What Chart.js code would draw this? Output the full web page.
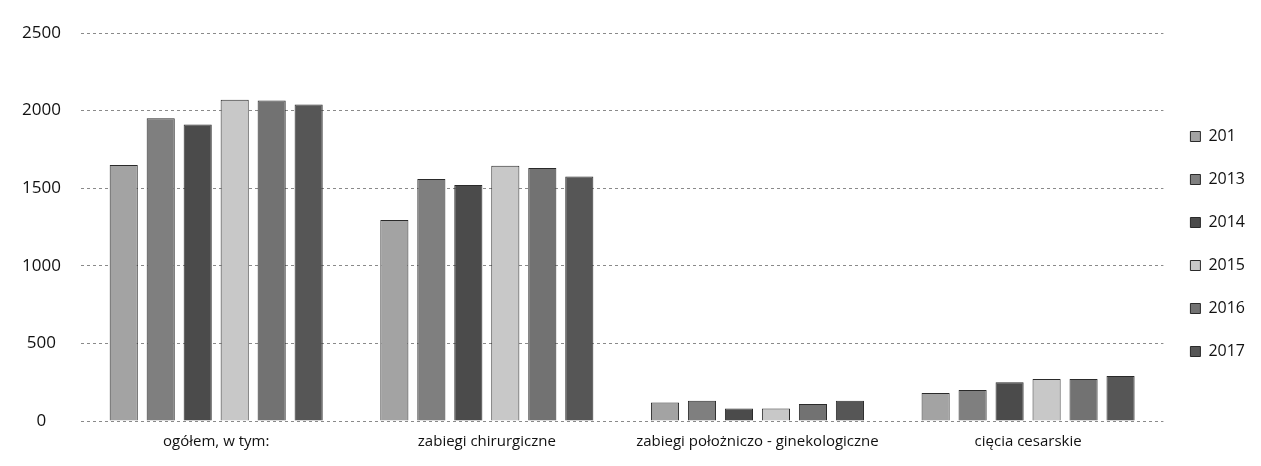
<!DOCTYPE html>
<html>
<head>
<meta charset="utf-8">
<script src="https://cdn.jsdelivr.net/npm/chart.js@4"></script>
<style>
  body { margin: 0; background: #fff; }
  #wrap { width: 1261px; height: 466px; }
</style>
</head>
<body>
<div id="wrap"><canvas id="chart" width="1261" height="466"></canvas></div>
<script>
const categories = ['ogółem, w tym:', 'zabiegi chirurgiczne', 'zabiegi położniczo - ginekologiczne', 'cięcia cesarskie'];
const years = ['201', '2013', '2014', '2015', '2016', '2017'];
const values2012 = [1650, 1295, 120, 180];
const values2013 = [1950, 1560, 130, 200];
const values2014 = [1910, 1520, 80, 250];
const values2015 = [2070, 1645, 80, 270];
const values2016 = [2065, 1630, 110, 270];
const values2017 = [2040, 1575, 130, 290];
const yTicks = [0, 500, 1000, 1500, 2000, 2500];

const seriesValues = [values2012, values2013, values2014, values2015, values2016, values2017];
const fills = ['#a3a3a3', '#7f7f7f', '#4b4b4b', '#c8c8c8', '#727272', '#565656'];

const ctx = document.getElementById('chart').getContext('2d');
new Chart(ctx, {
    type: 'bar',
    data: {
        labels: categories,
        datasets: years.map((y, i) => ({
            label: y,
            data: seriesValues[i],
            backgroundColor: fills[i],
            borderColor: '#2a2a2a',
            borderWidth: 1
        }))
    },
    options: {
        responsive: false,
        animation: false,
        layout: { padding: { top: 33, left: 2, right: 6, bottom: 11 } },
        datasets: { bar: { barPercentage: 0.76, categoryPercentage: 0.82 } },
        plugins: {
            legend: {
                position: 'right',
                labels: {
                    boxWidth: 10,
                    boxHeight: 10,
                    padding: 27,
                    color: '#111',
                    font: { family: 'Open Sans', size: 16 }
                }
            },
            tooltip: { enabled: false }
        },
        scales: {
            x: {
                grid: { display: false },
                border: { display: false },
                ticks: { color: '#111', font: { family: 'Open Sans', size: 15 }, padding: 4 }
            },
            y: {
                min: 0,
                max: 2500,
                afterBuildTicks: axis => { axis.ticks = yTicks.map(v => ({ value: v })); },
                border: { display: false, dash: [3, 3] },
                grid: { color: '#8a8a8a', drawTicks: false },
                ticks: {
                    color: '#111',
                    font: { family: 'Open Sans', size: 17 },
                    padding: 20,
                    crossAlign: 'center',
                    callback: v => String(v)
                }
            }
        }
    }
});
</script>
</body>
</html>
